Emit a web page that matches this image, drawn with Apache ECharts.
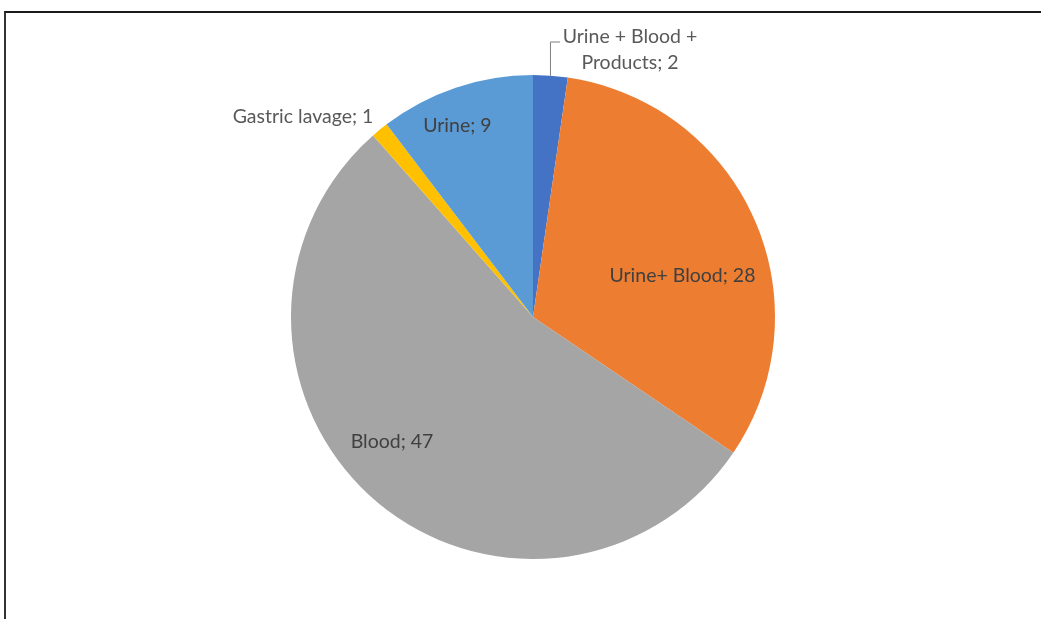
<!DOCTYPE html>
<html>
<head>
<meta charset="utf-8">
<script src="https://cdn.jsdelivr.net/npm/echarts@6/dist/echarts.min.js"></script>
<style>
  html, body { margin: 0; padding: 0; background: #fff; }
  #chart { width: 1041px; height: 619px; }
  #frame {
    position: absolute; left: 4px; top: 11px; right: 0; bottom: 0;
    border-top: 2px solid #1a1a1a; border-left: 2px solid #333;
    pointer-events: none;
  }
</style>
</head>
<body>
<div id="chart"></div>
<div id="frame"></div>
<script>
// slices, clockwise from 12 o'clock
const names = ['Urine + Blood +\nProducts', 'Urine+ Blood', 'Blood', 'Gastric lavage', 'Urine']
const values = [2, 28, 47, 1, 9]
const colors = ['#4472C4', '#ED7D31', '#A5A5A5', '#FFC000', '#5B9BD5']
// label nudges from the default 'inside' spot (Excel best fit)
const labelShift = [null, [36, 9], [-59, 32], null, [-36, -74]]

const chart = echarts.init(document.getElementById('chart'))

const seriesData = names.map((n, i) => {
  const outside = labelShift[i] === null
  return {
    name: n,
    value: values[i],
    itemStyle: { color: colors[i] },
    label: {
      position: outside ? 'outside' : 'inside',
      color: outside ? '#595959' : '#404040'
    },
    labelLine: { show: i === 0 }
  }
})

chart.setOption({
  animation: false,
  series: [{
    type: 'pie',
    center: [533, 317],
    radius: 242,
    startAngle: 90,
    clockwise: true,
    data: seriesData,
    label: {
      formatter: '{b}; {c}',
      fontFamily: 'Lato',
      fontSize: 19.5,
      lineHeight: 26,
      align: 'center'
    },
    labelLine: {
      lineStyle: { color: '#7f7f7f', width: 1 }
    },
    labelLayout: function(params) {
      const i = params.dataIndex
      if (labelShift[i]) {
        return { dx: labelShift[i][0], dy: labelShift[i][1] }
      }
      if (i === 0) {
        const p0 = params.labelLinePoints[0]
        return {
          x: 630, y: 50, align: 'center', verticalAlign: 'middle',
          labelLinePoints: [p0, [p0[0], 42], [560, 42]]
        }
      }
      // gastric lavage
      return { x: 303, y: 117, align: 'center', verticalAlign: 'middle' }
    }
  }]
})
</script>
</body>
</html>
